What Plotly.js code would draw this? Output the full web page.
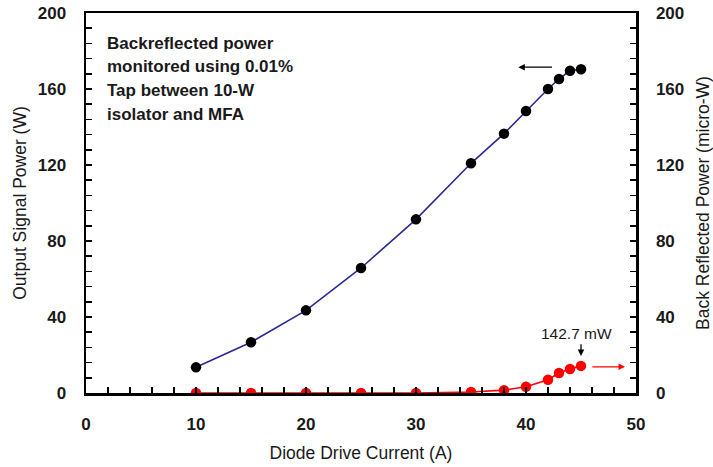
<!DOCTYPE html>
<html>
<head>
<meta charset="utf-8">
<script src="https://cdn.plot.ly/plotly-3.0.1.min.js"></script>
<style>
  html, body { margin: 0; padding: 0; background: #fff; }
  #chart { width: 713px; height: 467px; }
</style>
</head>
<body>
<div id="chart"></div>
<script>
// Diode drive current (A)
const current = [10, 15, 20, 25, 30, 35, 38, 40, 42, 43, 44, 45];
// Output signal power (W), left axis
const outputPower = [13.5, 26.7, 43.5, 65.8, 91.4, 120.9, 136.5, 148.4, 160.0, 165.3, 169.6, 170.4];
// Back reflected power (micro-W), right axis
const backPower = [0, 0, 0, 0, 0, 0.5, 1.5, 3.3, 7.0, 10.5, 12.6, 14.27];

const xTicks = [0, 10, 20, 30, 40, 50];
const yTicks = [0, 40, 80, 120, 160, 200];

// Note lines shown in the upper-left corner
const noteLines = ['Backreflected power', 'monitored using 0.01%', 'Tap between 10-W', 'isolator and MFA'];

const FONT = "'Liberation Sans', Arial, sans-serif";

const traces = [
  {
    x: current, y: outputPower, type: 'scatter', mode: 'lines+markers',
    line: { color: '#2a2a96', width: 1.6 },
    marker: { color: '#000000', size: 10.5 },
    yaxis: 'y', hoverinfo: 'x+y'
  },
  {
    x: current, y: backPower, type: 'scatter', mode: 'lines+markers',
    line: { color: '#ff0000', width: 1.6 },
    marker: { color: '#ff0000', size: 10.5 },
    yaxis: 'y2', hoverinfo: 'x+y'
  }
];

const tickFont = { family: FONT, size: 17, color: '#1a1a1a', weight: 'bold' };
const titleFont = { family: FONT, size: 17.5, color: '#1a1a1a' };

const axisCommon = {
  ticks: 'inside', ticklen: 6, tickwidth: 1.5, tickcolor: '#000',
  showline: true, linewidth: 2.5, linecolor: '#000',
  showgrid: false, zeroline: false,
  tickfont: tickFont, ticklabelstandoff: 14
};

const noteAnnotations = noteLines.map((line, i) => ({
  xref: 'paper', yref: 'paper', x: 0.035, y: 0.921 - i * 0.0627,
  xanchor: 'left', yanchor: 'middle', align: 'left', showarrow: false,
  text: line,
  font: { family: FONT, size: 17, color: '#1a1a1a', weight: 'bold' }
}));

const layout = {
  width: 713, height: 467,
  margin: { l: 86, r: 77, t: 13, b: 74 },
  paper_bgcolor: '#fff', plot_bgcolor: '#fff',
  showlegend: false,
  xaxis: Object.assign({}, axisCommon, {
    range: [0, 50], tickvals: xTicks, ticktext: xTicks.map(String),
    minor: { dtick: 2, ticks: 'inside', ticklen: 6, tickwidth: 1.5, tickcolor: '#000' },
    mirror: true,
    title: { text: 'Diode Drive Current (A)', font: titleFont, standoff: 14 }
  }),
  yaxis: Object.assign({}, axisCommon, {
    range: [0, 200], tickvals: yTicks, ticktext: yTicks.map(String),
    minor: { dtick: 8, ticks: 'inside', ticklen: 6, tickwidth: 1.5, tickcolor: '#000' },
    title: { text: 'Output Signal Power (W)', font: titleFont, standoff: 7 }
  }),
  yaxis2: Object.assign({}, axisCommon, {
    overlaying: 'y', side: 'right',
    range: [0, 200], tickvals: yTicks, ticktext: yTicks.map(String),
    minor: { dtick: 8, ticks: 'inside', ticklen: 6, tickwidth: 1.5, tickcolor: '#000' },
    title: { text: 'Back Reflected Power (micro-W)', font: titleFont, standoff: 14 }
  }),
  annotations: noteAnnotations.concat([
    // arrow pointing to the left axis
    {
      xref: 'x', yref: 'y', axref: 'x', ayref: 'y',
      x: 39.3, y: 171.5, ax: 42.5, ay: 171.5, text: '',
      showarrow: true, arrowhead: 2, arrowsize: 1, arrowwidth: 1.3, arrowcolor: '#000'
    },
    // arrow pointing to the right axis
    {
      xref: 'x', yref: 'y2', axref: 'x', ayref: 'y2',
      x: 49.0, y: 13.8, ax: 45.9, ay: 13.8, text: '',
      showarrow: true, arrowhead: 2, arrowsize: 1, arrowwidth: 1.3, arrowcolor: '#ff0000'
    },
    // marker for the last back reflected point
    {
      xref: 'x', yref: 'y2', axref: 'x', ayref: 'y2',
      x: 45, y: 19.5, ax: 45, ay: 26.5, text: '',
      showarrow: true, arrowhead: 2, arrowsize: 1, arrowwidth: 1.3, arrowcolor: '#000'
    },
    {
      xref: 'x', yref: 'y2', x: 44.6, y: 31.5, showarrow: false,
      text: '142.7 mW', font: { family: FONT, size: 15.5, color: '#1a1a1a' }
    }
  ])
};

Plotly.newPlot('chart', traces, layout, { displayModeBar: false, staticPlot: true });
</script>
</body>
</html>
